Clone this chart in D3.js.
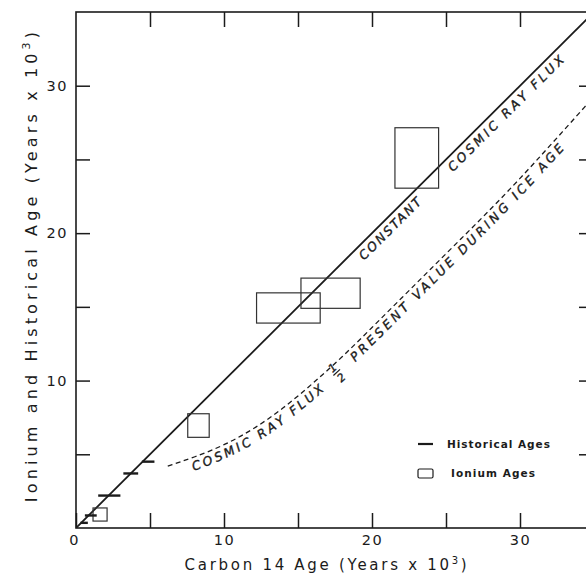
<!DOCTYPE html>
<html lang='en'>
<meta charset='utf-8'>
<style>
  body{ margin: 0; background: #fff; }
  svg{ display: block; }
  text{ font-family: 'DejaVu Sans', sans-serif; fill: #1b1b1b; }
  text.lbl{ stroke: #1b1b1b; stroke-width: 0.35; }
</style>
<body>
<svg id='chart' width='586' height='577'></svg>
<script src='https://d3js.org/d3.v7.min.js'></script>
<script>
  // ticks
  const xTickValues = [0, 5, 10, 15, 20, 25, 30, 35]
  const xTickLabels = [0, 10, 20, 30]
  const yTickValues = [5, 10, 15, 20, 25, 30]
  const yTickLabels = [10, 20, 30]

  // historical ages (short bars): carbon 14 range, true age
  const histC14Lo = [0.3, 0.6, 1.5, 3.2, 4.45]
  const histC14Hi = [0.8, 1.4, 3.0, 4.2, 5.3]
  const histAge   = [0.35, 0.85, 2.2, 3.7, 4.5]

  // ionium ages (boxes)
  const ionC14Lo = [1.15, 7.55, 12.2, 15.2, 21.55]
  const ionC14Hi = [2.1, 9.0, 16.5, 19.2, 24.5]
  const ionAgeLo = [0.47, 6.15, 13.9, 14.9, 23.05]
  const ionAgeHi = [1.36, 7.75, 15.95, 16.95, 27.15]

  // constant cosmic ray flux
  const constC14 = [0, 36]
  const constAge = [0, 36]

  // flux 1/2 present value during ice age
  const halfC14 = [6.2, 8, 10, 12, 14, 16, 18, 20, 22, 24, 26, 28, 30, 32, 34.5, 36]
  const halfAge = [4.2, 4.8, 5.6, 6.7, 8.1, 9.8, 11.6, 13.6, 15.6, 17.6, 19.6, 21.6, 23.7, 25.9, 28.7, 30.4]

  const ink = '#1b1b1b'
  const svg = d3.select('#chart')

  const x = d3.scaleLinear().domain([0, 35]).range([76, 594])
  const y = d3.scaleLinear().domain([0, 35]).range([528, 12])

  svg.append('defs').append('clipPath').attr('id', 'plot')
    .append('rect').attr('x', x(0)).attr('y', y(35))
    .attr('width', x(35) - x(0)).attr('height', y(0) - y(35))

  // 字距拉伸到目标宽度
  const fitWidth = (sel, target) => {
    const node = sel.node()
    const n = node.getNumberOfChars()
    const w = node.getComputedTextLength()
    sel.attr('letter-spacing', ((target - w) / (n - 1)).toFixed(2))
  }

  // axes
  const styleAxis = (g) => {
    g.select('.domain').remove()
    g.selectAll('.tick line').attr('stroke', ink).attr('stroke-width', 1.5)
    g.selectAll('.tick text').attr('fill', ink).attr('font-size', 14.5)
      .attr('letter-spacing', 1.5)
      .attr('font-family', "'DejaVu Sans', sans-serif")
  }

  svg.append('g').attr('transform', `translate(0,${y(0)})`)
    .call(d3.axisBottom(x).tickValues(xTickValues).tickSize(-15).tickPadding(7)
      .tickFormat(d => xTickLabels.includes(d) ? d : ''))
    .call(styleAxis)
    .selectAll('.tick text').filter(d => d === 0).attr('dx', -2)

  svg.append('g').attr('transform', `translate(${x(0)},0)`)
    .call(d3.axisLeft(y).tickValues(yTickValues).tickSize(-14).tickPadding(8)
      .tickFormat(d => yTickLabels.includes(d) ? d : ''))
    .call(styleAxis)

  svg.append('g').attr('transform', `translate(0,${y(35)})`)
    .call(d3.axisTop(x).tickValues(yTickValues).tickSize(-15).tickFormat(''))
    .call(styleAxis)

  svg.append('g').attr('transform', `translate(${x(35)},0)`)
    .call(d3.axisRight(y).tickValues(yTickValues).tickSize(-15).tickFormat(''))
    .call(styleAxis)

  svg.append('rect')
    .attr('x', x(0)).attr('y', y(35))
    .attr('width', x(35) - x(0)).attr('height', y(0) - y(35))
    .attr('fill', 'none').attr('stroke', ink).attr('stroke-width', 1.6)

  // curves
  const plot = svg.append('g').attr('clip-path', 'url(#plot)')
  const line = d3.line().x(d => x(d[0])).y(d => y(d[1]))

  plot.append('path')
    .datum(d3.zip(constC14, constAge))
    .attr('d', line)
    .attr('fill', 'none').attr('stroke', ink).attr('stroke-width', 1.8)

  const halfPath = plot.append('path')
    .datum(d3.zip(halfC14, halfAge))
    .attr('d', line.curve(d3.curveBasis))
    .attr('fill', 'none').attr('stroke', ink).attr('stroke-width', 1.3)
    .attr('stroke-dasharray', '5,3.5')

  // ionium boxes
  plot.selectAll('.ion').data(d3.range(ionC14Lo.length)).join('rect')
    .attr('x', i => x(ionC14Lo[i]))
    .attr('y', i => y(ionAgeHi[i]))
    .attr('width', i => x(ionC14Hi[i]) - x(ionC14Lo[i]))
    .attr('height', i => y(ionAgeLo[i]) - y(ionAgeHi[i]))
    .attr('fill', 'none').attr('stroke', '#333').attr('stroke-width', 1.2)

  // historical bars
  plot.selectAll('.hist').data(d3.range(histAge.length)).join('line')
    .attr('x1', i => x(histC14Lo[i])).attr('x2', i => x(histC14Hi[i]))
    .attr('y1', i => y(histAge[i])).attr('y2', i => y(histAge[i]))
    .attr('stroke', ink).attr('stroke-width', 2.4)

  // labels along the constant line
  const ang = Math.atan2(y(1) - y(0), x(1) - x(0)) * 180 / Math.PI
  const nx = -(y(1) - y(0)), ny = x(1) - x(0)
  const nl = Math.hypot(nx, ny)
  const onLine = (t, off, txt, len) => {
    const px = x(t) + nx / nl * off, py = y(t) + ny / nl * off
    const tx = svg.append('text').attr('class', 'lbl')
      .attr('transform', `translate(${px},${py}) rotate(${ang})`)
      .attr('font-size', 12.5).attr('font-style', 'italic')
      .text(txt)
    fitWidth(tx, len)
  }
  onLine(18.8, 14, 'CONSTANT', 82)
  onLine(24.8, 14, 'COSMIC RAY FLUX', 158)

  // offset path under the dashed curve for its label
  const hp = halfPath.node()
  const total = hp.getTotalLength()
  const offPts = []
  for (let s = 0; s <= total; s += 3) {
    const a = hp.getPointAtLength(Math.max(0, s - 2)), b = hp.getPointAtLength(Math.min(total, s + 2))
    const p = hp.getPointAtLength(s)
    const dx = b.x - a.x, dy = b.y - a.y, l = Math.hypot(dx, dy)
    offPts.push([p.x - dy / l * 13, p.y + dx / l * 13])
  }
  const labelPath = svg.select('defs').append('path').attr('id', 'halfLabel')
    .attr('d', d3.line().curve(d3.curveBasis)(offPts))
  const lp = labelPath.node()
  const lpTotal = lp.getTotalLength()
  const lenNear = (px, py) => {
    let best = 0, bd = Infinity
    for (let s = 0; s <= lpTotal; s += 0.5) {
      const p = lp.getPointAtLength(s)
      const d = (p.x - px) ** 2 + (p.y - py) ** 2
      if (d < bd) { bd = d; best = s }
    }
    return best
  }
  const alongPath = (txt, fromPt, toPt) => {
    const s0 = lenNear(fromPt[0], fromPt[1]), s1 = lenNear(toPt[0], toPt[1])
    const t = svg.append('text').attr('class', 'lbl').attr('font-size', 12.5).attr('font-style', 'italic')
    const tp = t.append('textPath').attr('href', '#halfLabel').attr('startOffset', s0).text(txt)
    const n = t.node().getNumberOfChars()
    const w = t.node().getComputedTextLength()
    tp.attr('letter-spacing', ((s1 - s0 - w) / (n - 1)).toFixed(2))
  }
  alongPath('COSMIC  RAY  FLUX', [196, 477], [327, 393])
  alongPath('PRESENT  VALUE  DURING  ICE  AGE', [357, 364], [568, 152])

  // fraction 1/2
  const fs = lenNear(342, 378)
  const fp = lp.getPointAtLength(fs)
  const fq = lp.getPointAtLength(fs + 2)
  const fAng = Math.atan2(fq.y - fp.y, fq.x - fp.x) * 180 / Math.PI
  const frac = svg.append('g').attr('transform', `translate(${fp.x},${fp.y}) rotate(${fAng})`)
  frac.append('text').attr('class', 'lbl').attr('x', 0).attr('y', -7.5).attr('text-anchor', 'middle')
    .attr('font-size', 11).attr('font-style', 'italic').text('1')
  frac.append('line').attr('x1', -4.5).attr('x2', 4.5).attr('y1', -5.2).attr('y2', -5.2)
    .attr('stroke', ink).attr('stroke-width', 1.2)
  frac.append('text').attr('class', 'lbl').attr('x', 0).attr('y', 5.5).attr('text-anchor', 'middle')
    .attr('font-size', 11).attr('font-style', 'italic').text('2')

  // legend
  svg.append('line').attr('x1', 418).attr('x2', 433).attr('y1', 444).attr('y2', 444)
    .attr('stroke', ink).attr('stroke-width', 2.2)
  svg.append('rect').attr('x', 418).attr('y', 469).attr('width', 15).attr('height', 9).attr('rx', 1.5)
    .attr('fill', 'none').attr('stroke', ink).attr('stroke-width', 1.2)
  const lg1 = svg.append('text').attr('x', 447).attr('y', 448)
    .attr('font-size', 10.5).attr('font-weight', 'bold').text('Historical Ages')
  fitWidth(lg1, 103)
  const lg2 = svg.append('text').attr('x', 451).attr('y', 477)
    .attr('font-size', 10.5).attr('font-weight', 'bold').text('Ionium Ages')
  fitWidth(lg2, 84)

  // axis titles
  const xt = svg.append('text').attr('x', 327).attr('y', 570).attr('text-anchor', 'middle')
    .attr('font-size', 15)
  xt.append('tspan').text('Carbon 14 Age (Years x 10')
  xt.append('tspan').attr('font-size', 10).attr('dy', -6).text('3')
  xt.append('tspan').attr('dy', 6).text(')')
  fitWidth(xt, 282)

  const yt = svg.append('text').attr('transform', 'translate(37,265) rotate(-90)')
    .attr('text-anchor', 'middle').attr('font-size', 16)
  yt.append('tspan').text('Ionium and Historical Age (Years x 10')
  yt.append('tspan').attr('font-size', 11).attr('dy', -7).text('3')
  yt.append('tspan').attr('dy', 7).text(')')
  fitWidth(yt, 470)
</script>
</body>
</html>
